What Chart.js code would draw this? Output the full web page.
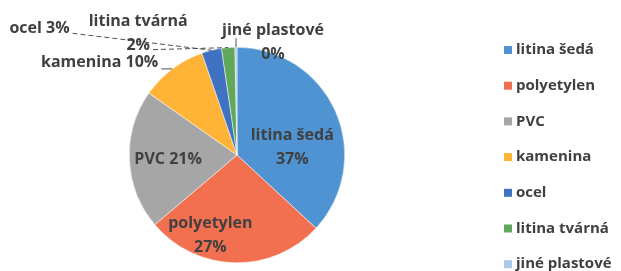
<!DOCTYPE html>
<html>
<head>
<meta charset="utf-8">
<script src="https://cdn.jsdelivr.net/npm/chart.js@4"></script>
<style>
  html, body { margin: 0; padding: 0; background: #fff; }
  #wrap { width: 621px; height: 271px; }
</style>
</head>
<body>
<div id="wrap"><canvas id="app-chart"></canvas></div>
<script>
const materials = ["litina šedá", "polyetylen", "PVC", "kamenina", "ocel", "litina tvárná", "jiné plastové"];
const shares = [37, 27, 21, 10, 3, 2, 0.3];
const colors = ["#4f93d3", "#f2704f", "#a6a6a6", "#ffb337", "#3f72c2", "#62a85a", "#a9c8ea"];

// where each data label sits: r = fraction of radius from centre, dx/dy nudge in px
const placement = [
  { r: 0.6, dx: -4, dy: 18, split: true },
  { r: 0.7, dx: -25, dy: 5, split: true },
  { r: 0.64, dx: 0, dy: 1, split: false },
  { r: 1, dx: -14, dy: -6, split: false, align: "right", leader: "solid" },
  { r: 1, dx: -142, dy: -22, split: false, align: "right", leader: "dash" },
  { r: 1, dx: -90, dy: -14, split: true, leader: "dash" },
  { r: 1, dx: 37, dy: -5, split: true, leader: "tick" },
];

const textColor = "#404040";
const labelFont = "bold 16px 'Open Sans'";

const total = shares.reduce((a, b) => a + b, 0);
const pct = (v) => Math.round((v / total) * 100) + "%";

const sliceLabels = {
  id: "sliceLabels",
  afterDatasetsDraw(chart) {
    const ctx = chart.ctx;
    const arcs = chart.getDatasetMeta(0).data;
    ctx.save();
    ctx.font = labelFont;
    ctx.fillStyle = textColor;
    ctx.strokeStyle = "#505050";
    ctx.lineWidth = 1;
    ctx.textBaseline = "middle";
    arcs.forEach((arc, i) => {
      const p = placement[i];
      const mid = (arc.startAngle + arc.endAngle) / 2;
      const ax = arc.x + Math.cos(mid) * arc.outerRadius * p.r;
      const ay = arc.y + Math.sin(mid) * arc.outerRadius * p.r;
      const x = ax + p.dx;
      const y = ay + p.dy;
      const name = materials[i];
      const val = pct(shares[i]);
      ctx.textAlign = p.align || "center";
      if (p.split) {
        ctx.fillText(name, x, y - 12);
        ctx.fillText(val, x, y + 12);
      } else {
        ctx.fillText(name + " " + val, x, y);
      }
      if (p.leader === "solid") {
        ctx.beginPath();
        ctx.moveTo(x + 3, y + 6);
        ctx.lineTo(ax, ay);
        ctx.stroke();
      } else if (p.leader === "dash") {
        const w = p.split ? ctx.measureText(val).width / 2 : 0;
        ctx.setLineDash([5, 3]);
        ctx.beginPath();
        ctx.moveTo(x + w + 3, y + (p.split ? 16 : 5));
        ctx.lineTo(ax, ay);
        ctx.stroke();
        ctx.setLineDash([]);
      } else if (p.leader === "tick") {
        ctx.beginPath();
        ctx.moveTo(ax, ay);
        ctx.lineTo(ax, ay - 9);
        ctx.stroke();
      }
    });
    ctx.restore();
  },
};

const sideLegend = {
  id: "sideLegend",
  afterDraw(chart) {
    const ctx = chart.ctx;
    const left = chart.width - 117;
    const top = 50;
    const step = 35.7;
    ctx.save();
    ctx.font = "bold 15px 'Open Sans'";
    ctx.textBaseline = "middle";
    ctx.textAlign = "left";
    materials.forEach((m, i) => {
      const y = top + i * step;
      ctx.fillStyle = colors[i];
      ctx.fillRect(left, y - 4, 8, 8);
      ctx.fillStyle = textColor;
      ctx.fillText(m, left + 12, y);
    });
    ctx.restore();
  },
};

const ctx = document.querySelector("#app-chart").getContext("2d");

new Chart(ctx, {
  type: "pie",
  data: {
    labels: materials,
    datasets: [
      {
        data: shares,
        backgroundColor: colors,
        borderColor: "#ffffff",
        borderWidth: 0.5,
      },
    ],
  },
  options: {
    responsive: true,
    maintainAspectRatio: false,
    animation: false,
    layout: { padding: { left: 0, right: 147, top: 47, bottom: 8 } },
    plugins: {
      legend: { display: false },
      tooltip: { enabled: false },
    },
  },
  plugins: [sliceLabels, sideLegend],
});
</script>
</body>
</html>
